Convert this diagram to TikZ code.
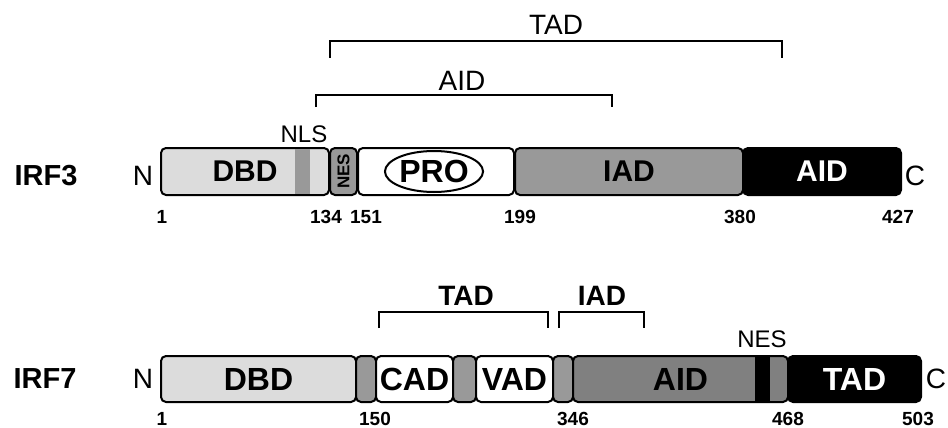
\documentclass[tikz,border=0pt]{standalone}
\usepackage{fontspec}
\setmainfont{Liberation Sans}
\usetikzlibrary{shapes.geometric}
\definecolor{dbdgray}{HTML}{DCDCDC}
\definecolor{midgray}{HTML}{999999}
\definecolor{aidgray}{HTML}{808080}
\tikzset{
  dom/.style={draw, line width=2pt, rounded corners=5pt, inner sep=0pt, anchor=west},
  bar3/.style={dom, minimum height=47, font=\bfseries\fontsize{30}{32}\selectfont},
  bar7/.style={dom, minimum height=46, font=\bfseries\fontsize{32}{34}\selectfont},
  resnum/.style={anchor=base, inner sep=0pt, font=\bfseries\fontsize{19}{20}\selectfont},
  lbl/.style={anchor=base, font=\fontsize{28}{30}\selectfont},
  boldlbl/.style={anchor=base, font=\bfseries\fontsize{28}{30}\selectfont},
  protname/.style={anchor=base, font=\bfseries\fontsize{29}{30}\selectfont},
  bracket/.style={line width=2pt, line cap=butt},
}

\begin{document}
\begin{tikzpicture}[x=1pt, y=-1pt]
  \useasboundingbox (0,0) rectangle (948,428);

  % IRF3
  \node[protname] (irf3) at (46,185) {IRF3};
  \node[lbl] (n3) at (143,185) {N};
  \node[bar3, fill=dbdgray, minimum width=168] (dbd3) at (160,171.5) {DBD};
  \fill[midgray] (295,149) rectangle (310,194);
  \node[bar3, fill=midgray, minimum width=27] (nes3) at (329,171.5) {};
  \node[rotate=90, font=\bfseries\fontsize{17}{18}\selectfont] (nestext3) at (nes3.center) {NES};
  \node[bar3, fill=white, minimum width=156] (pro3) at (357,171.5) {};
  \node[ellipse, draw, line width=2pt, inner sep=0pt, minimum width=84, minimum height=41,
        font=\bfseries\fontsize{32}{34}\selectfont] (pro) at (434,171.5) {PRO};
  \node[bar3, fill=midgray, minimum width=228] (iad3) at (514,171.5) {IAD};
  \node[bar3, fill=black, text=white, minimum width=158] (aid3) at (742,171.5) {AID};
  \node[lbl] (c3) at (915,185) {C};
  \node[lbl, font=\fontsize{24}{26}\selectfont] (nls) at (304,142) {NLS};

  \foreach \x/\n in {162/1, 326/134, 366/151, 520/199, 740/380, 898/427}
    \node[resnum] at (\x,223) {\n};

  % IRF3 brackets
  \draw[bracket] (330,58) -- (330,41) -- (782,41) -- (782,58);
  \node[lbl] (tad3) at (556,35) {TAD};
  \draw[bracket] (316,107) -- (316,95) -- (612,95) -- (612,107);
  \node[lbl] (aidtop3) at (462,90) {AID};

  % IRF7
  \node[protname] (irf7) at (45,388) {IRF7};
  \node[lbl] (n7) at (143,388) {N};
  \node[bar7, fill=dbdgray, minimum width=195] (dbd7) at (160,379) {DBD};
  \node[bar7, fill=midgray, minimum width=20] (gap1) at (355,379) {};
  \node[bar7, fill=white, minimum width=77] (cad) at (375,379) {CAD};
  \node[bar7, fill=midgray, minimum width=23] (gap2) at (452,379) {};
  \node[bar7, fill=white, minimum width=77] (vad) at (475,379) {VAD};
  \node[bar7, fill=midgray, minimum width=20] (gap3) at (552,379) {};
  \node[bar7, fill=aidgray, minimum width=215] (aid7) at (572,379) {AID};
  \fill[black] (755,357) rectangle (770,401);
  \node[bar7, fill=black, text=white, minimum width=133] (tad7) at (787,379) {TAD};
  \node[lbl] (c7) at (936,388) {C};
  \node[lbl, font=\fontsize{24}{26}\selectfont] (nes7) at (762,347) {NES};

  \foreach \x/\n in {162/1, 375/150, 573/346, 788/468, 918/503}
    \node[resnum] at (\x,425) {\n};

  % IRF7 brackets
  \draw[bracket] (379,328) -- (379,312) -- (548,312) -- (548,328);
  \node[boldlbl] (tadtop7) at (466,305) {TAD};
  \draw[bracket] (559,328) -- (559,312) -- (644,312) -- (644,328);
  \node[boldlbl] (iadtop7) at (602,305) {IAD};
\end{tikzpicture}
\end{document}
